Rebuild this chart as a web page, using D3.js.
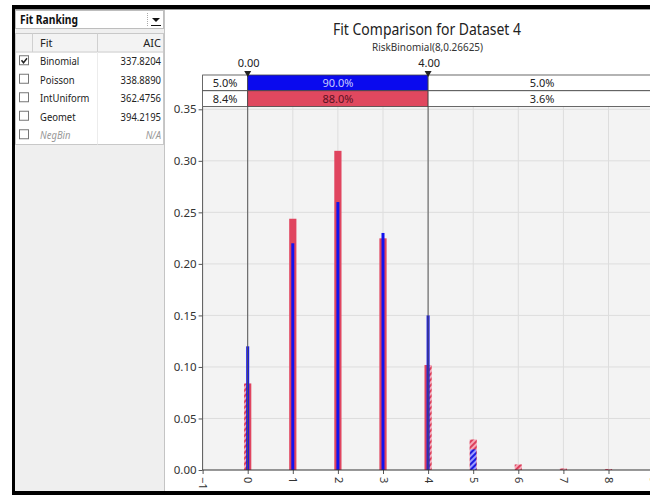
<!DOCTYPE html>
<html><head><meta charset="utf-8">
<script src="https://cdn.jsdelivr.net/npm/d3@7/dist/d3.min.js"></script>
<style>
html,body{margin:0;padding:0;background:#fff;}
svg{display:block;font-family:"Noto Sans","Open Sans",sans-serif;}
</style></head>
<body>
<svg id="chart" width="650" height="495"></svg>
<script>
// ---------- data ----------
const xValues   = [0, 1, 2, 3, 4, 5, 6, 7, 8];
const fitProb   = [0.0840, 0.2438, 0.3097, 0.2248, 0.1019, 0.0296, 0.0054, 0.0015, 0.0010]; // RiskBinomial(8,0.26625)
const dataProb  = [0.12, 0.22, 0.26, 0.23, 0.15, 0.02, 0, 0, 0];                            // input data
const xTicks    = [-1, 0, 1, 2, 3, 4, 5, 6, 7, 8, 9];
const yTicks    = [0.00, 0.05, 0.10, 0.15, 0.20, 0.25, 0.30, 0.35];
const delimiters = [0, 4];
const delimiterLabels = ["0.00", "4.00"];
const dataBand  = ["5.0%", "90.0%", "5.0%"];
const fitBand   = ["8.4%", "88.0%", "3.6%"];
const fitNames  = ["Binomial", "Poisson", "IntUniform", "Geomet", "NegBin"];
const fitAIC    = ["337.8204", "338.8890", "362.4756", "394.2195", "N/A"];
const fitChecked = [true, false, false, false, false];
const title = "Fit Comparison for Dataset 4";
const subtitle = "RiskBinomial(8,0.26625)";

// ---------- setup ----------
const svg = d3.select("#chart");
const RED = "#e0455f", BLUE = "#1212ee";
const defs = svg.append("defs");
function hatch(id, c1, c2){
  const p = defs.append("pattern").attr("id", id).attr("patternUnits","userSpaceOnUse")
    .attr("width",4).attr("height",4).attr("patternTransform","rotate(45)");
  p.append("rect").attr("width",4).attr("height",4).attr("fill",c2);
  p.append("rect").attr("width",2).attr("height",4).attr("fill",c1);
}
hatch("hatchRed", "#dd3f5b", "#f5a9b8");
hatch("hatchBlue", "#1a1ae0", "#9a9aff");

function condense(sel, f){
  sel.each(function(){
    const w = this.getComputedTextLength();
    d3.select(this).attr("textLength", w*f).attr("lengthAdjust","spacingAndGlyphs");
  });
}

const x = d3.scaleLinear().domain([-1, 9]).range([202.6, 653.6]);
const y = d3.scaleLinear().domain([0, 0.35]).range([470, 109.3]);
const plotTop = 106.5, plotBottom = y(0), plotLeft = x(-1), plotRight = 650;

// ---------- frame & left panel ----------
svg.append("rect").attr("x",165).attr("y",10).attr("width",485).attr("height",481).attr("fill","#fff");
svg.append("rect").attr("x",15).attr("y",10).attr("width",150).attr("height",481).attr("fill","#efefef");
svg.append("line").attr("x1",164.5).attr("x2",164.5).attr("y1",10).attr("y2",491).attr("stroke","#c4c4c4");
svg.append("line").attr("x1",12).attr("x2",650).attr("y1",9.5).attr("y2",9.5).attr("stroke","#9a9a9a");
svg.append("rect").attr("x",12).attr("y",5).attr("width",638).attr("height",4).attr("fill","#000");
svg.append("rect").attr("x",12).attr("y",5).attr("width",3).attr("height",490).attr("fill","#000");

// dropdown
svg.append("rect").attr("x",15.5).attr("y",10.5).attr("width",148).attr("height",18).attr("fill","#fff").attr("stroke","#bdbdbd");
svg.append("text").attr("x",20).attr("y",23.5).attr("font-size",12).attr("font-weight","bold").attr("fill","#111")
  .attr("textLength",58).attr("lengthAdjust","spacingAndGlyphs").text("Fit Ranking");
svg.append("line").attr("x1",147.5).attr("x2",147.5).attr("y1",13).attr("y2",27).attr("stroke","#aaa").attr("stroke-dasharray","1,1");
svg.append("path").attr("d","M152,18 L160,18 L156,22 Z").attr("fill","#111");
svg.append("line").attr("x1",151).attr("x2",161).attr("y1",25.5).attr("y2",25.5).attr("stroke","#111");

// table
const rowH = 18.5, headTop = 33.5, headH = 18.5;
svg.append("rect").attr("x",15.5).attr("y",headTop).attr("width",148).attr("height",headH + rowH*fitNames.length).attr("fill","#fff").attr("stroke","#c8c8c8");
svg.append("rect").attr("x",16).attr("y",headTop+0.5).attr("width",147).attr("height",headH-1).attr("fill","#f3f3f3");
svg.append("line").attr("x1",16).attr("x2",163).attr("y1",headTop+headH).attr("y2",headTop+headH).attr("stroke","#c8c8c8");
[32.5, 97.5].forEach(cx => svg.append("line").attr("x1",cx).attr("x2",cx).attr("y1",headTop).attr("y2",headTop+headH).attr("stroke","#d0d0d0"));
svg.append("line").attr("x1",97.5).attr("x2",97.5).attr("y1",headTop+headH).attr("y2",headTop+headH+rowH*fitNames.length).attr("stroke","#ececec");
svg.append("text").attr("x",40).attr("y",headTop+13).attr("font-size",11).attr("fill","#222").text("Fit");
svg.append("text").attr("x",161).attr("y",headTop+13).attr("font-size",11).attr("fill","#222").attr("text-anchor","end").text("AIC");
fitNames.forEach((n,i) => {
  const cy = headTop + headH + rowH*i + rowH/2;
  const it = n === "NegBin";
  svg.append("rect").attr("x",19.5).attr("y",cy-5.5).attr("width",9).attr("height",9).attr("fill","#fff").attr("stroke","#777");
  if (fitChecked[i]) svg.append("path").attr("d",`M21.5,${cy-1} L23.5,${cy+1.5} L27,${cy-3}`).attr("fill","none").attr("stroke","#222").attr("stroke-width",1.5);
  svg.append("text").attr("class","pt").attr("x",40).attr("y",cy+4).attr("font-size",11).attr("fill", it?"#999":"#222")
    .attr("font-style", it?"italic":"normal").text(n);
  svg.append("text").attr("class","pt").attr("x",161).attr("y",cy+4).attr("font-size",11).attr("fill", it?"#999":"#222")
    .attr("font-style", it?"italic":"normal").attr("text-anchor","end").text(fitAIC[i]);
});
condense(svg.selectAll("text.pt"), 0.86);

// ---------- titles ----------
svg.append("text").attr("x",427).attr("y",35).attr("text-anchor","middle").attr("font-size",16.5).attr("fill","#222")
  .attr("textLength",188).attr("lengthAdjust","spacingAndGlyphs").text(title);
svg.append("text").attr("x",427.5).attr("y",51).attr("text-anchor","middle").attr("font-size",10.5).attr("fill","#333")
  .attr("textLength",111).attr("lengthAdjust","spacingAndGlyphs").text(subtitle);

// ---------- plot ----------
const clip = defs.append("clipPath").attr("id","plotClip");
clip.append("rect").attr("x",plotLeft).attr("y",60).attr("width",plotRight-plotLeft).attr("height",plotBottom-60+30);
const g = svg.append("g").attr("clip-path","url(#plotClip)");
g.append("rect").attr("x",plotLeft).attr("y",plotTop).attr("width",plotRight-plotLeft).attr("height",plotBottom-plotTop).attr("fill","#f3f3f3");

// grid
g.selectAll(".vg").data(xTicks.filter(t=>t>-1)).enter().append("line")
  .attr("x1",d=>x(d)).attr("x2",d=>x(d)).attr("y1",plotTop).attr("y2",plotBottom).attr("stroke","#dddddd");
g.selectAll(".hg").data(yTicks.filter(t=>t>0)).enter().append("line")
  .attr("x1",plotLeft).attr("x2",plotRight).attr("y1",d=>y(d)).attr("y2",d=>y(d)).attr("stroke","#dddddd");

// bars
const barW = x(0.16) - x(0);
const lineW = 3;
const lo = x(delimiters[0]), hi = x(delimiters[1]);
xValues.forEach((v,i) => {
  const cx = x(v), top = y(fitProb[i]), h = plotBottom - top;
  const x0 = cx - barW/2, x1 = cx + barW/2;
  const s0 = Math.max(x0, lo), s1 = Math.min(x1, hi);
  // red (fit) bar: hatched outside delimiters, solid inside
  if (s0 > x0) g.append("rect").attr("x",x0).attr("y",top).attr("width",Math.min(s0,x1)-x0).attr("height",h).attr("fill","url(#hatchRed)");
  if (s1 < x1) g.append("rect").attr("x",Math.max(s1,x0)).attr("y",top).attr("width",x1-Math.max(s1,x0)).attr("height",h).attr("fill","url(#hatchRed)");
  if (s1 > s0) g.append("rect").attr("x",s0).attr("y",top).attr("width",s1-s0).attr("height",h).attr("fill",RED);
  // blue (data)
  if (dataProb[i] > 0) {
    const bt = y(dataProb[i]);
    if (v >= delimiters[0] && v <= delimiters[1]) {
      g.append("rect").attr("x",cx-lineW/2).attr("y",bt).attr("width",lineW).attr("height",plotBottom-bt).attr("fill",BLUE);
    } else {
      g.append("rect").attr("x",x0+0.5).attr("y",bt).attr("width",barW-1).attr("height",plotBottom-bt).attr("fill","url(#hatchBlue)");
    }
  }
});

// delimiter lines
delimiters.forEach((d,i) => {
  svg.append("line").attr("x1",x(d)).attr("x2",x(d)).attr("y1",74).attr("y2",plotBottom).attr("stroke","#555").attr("stroke-width",1);
  svg.append("text").attr("x",x(d)+1).attr("y",67).attr("text-anchor","middle").attr("font-size",11).attr("fill","#222").text(delimiterLabels[i]);
});

// band
const bandTop = 75, bandRowH = 15.75, bandRight = 656;
const bandClip = defs.append("clipPath").attr("id","bandClip");
bandClip.append("rect").attr("x",0).attr("y",0).attr("width",650).attr("height",495);
const bandG = svg.append("g").attr("clip-path","url(#bandClip)");
[dataBand, fitBand].forEach((row, r) => {
  const yy = bandTop + r*bandRowH;
  const cells = [[plotLeft, lo], [lo, hi], [hi, bandRight]];
  cells.forEach((c, j) => {
    const fill = j === 1 ? (r === 0 ? "#0a0aee" : "#e0485f") : "#fff";
    bandG.append("rect").attr("x",c[0]).attr("y",yy).attr("width",c[1]-c[0]).attr("height",bandRowH)
      .attr("fill",fill).attr("stroke","#444").attr("stroke-width",0.8);
    const tc = j === 1 ? (r === 0 ? "#c8ccff" : "#5a1222") : "#222";
    bandG.append("text").attr("x",(c[0]+c[1])/2).attr("y",yy+bandRowH/2+4).attr("text-anchor","middle")
      .attr("font-size",11).attr("fill",tc).text(row[j]);
  });
});
// triangles
delimiters.forEach(d => {
  const cx = x(d);
  svg.append("path").attr("d",`M${cx-3.5},${71} L${cx+3.5},${71} L${cx},${77} Z`).attr("fill","#222");
});

// axes
const yAxis = d3.axisLeft(y).tickValues(yTicks).tickFormat(d3.format(".2f")).tickSize(4).tickSizeOuter(0);
const ya = svg.append("g").attr("transform",`translate(${plotLeft},0)`).call(yAxis);
ya.select(".domain").remove();
ya.selectAll("line").attr("stroke","#555");
ya.selectAll("text").attr("font-size",11.5).attr("fill","#333").attr("font-family","'Noto Sans',sans-serif").attr("x",-6);
svg.append("line").attr("x1",plotLeft).attr("x2",plotLeft).attr("y1",plotTop).attr("y2",plotBottom).attr("stroke","#555");

const xAxis = d3.axisBottom(x).tickValues(xTicks).tickFormat(d3.format("d")).tickSize(4).tickSizeOuter(0);
const xa = svg.append("g").attr("transform",`translate(0,${plotBottom})`).call(xAxis);
xa.select(".domain").remove();
xa.selectAll("line").attr("stroke","#555");
xa.selectAll("text").attr("font-size",11).attr("fill","#333").attr("font-family","'Noto Sans',sans-serif")
  .attr("text-anchor","start").attr("dy","0.35em").attr("y",0)
  .attr("transform","translate(0,7) rotate(90)");
svg.append("line").attr("x1",plotLeft).attr("x2",plotRight).attr("y1",plotBottom).attr("y2",plotBottom).attr("stroke","#333");
// black frame bottom on top
svg.append("rect").attr("x",12).attr("y",491).attr("width",638).attr("height",4).attr("fill","#000");
</script>
</body></html>
